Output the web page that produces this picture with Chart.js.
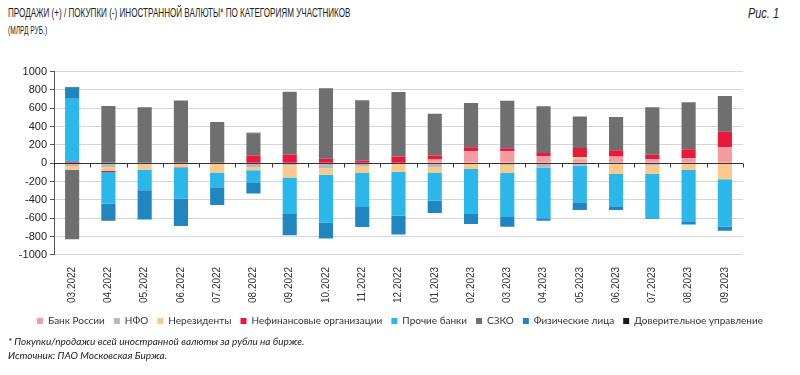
<!DOCTYPE html>
<html>
<head>
<meta charset="utf-8">
<script src="https://cdn.jsdelivr.net/npm/chart.js@4.4.0/dist/chart.umd.min.js"></script>
<style>
  body { margin: 0; width: 800px; height: 375px; background: #fff; position: relative; overflow: hidden; }
  .title { position: absolute; left: 8px; top: 5px; font-family: "Liberation Sans", sans-serif; font-size: 13.5px; color: #222; transform: scaleX(0.6); transform-origin: left top; white-space: nowrap; }
  .unit { position: absolute; left: 8px; top: 25px; font-family: "Liberation Sans", sans-serif; font-size: 10px; color: #222; transform: scaleX(0.66); transform-origin: left top; }
  .fig { position: absolute; left: 748px; top: 5px; font-family: "Liberation Sans", sans-serif; font-style: italic; font-size: 14px; color: #222; transform: scaleX(0.78); transform-origin: left top; }
  .note { position: absolute; left: 8px; font-family: Lato, sans-serif; font-style: italic; font-size: 10px; color: #222; }
  #wrap { position: absolute; left: 0; top: 62px; width: 800px; height: 274px; }
</style>
</head>
<body>
<div class="title">ПРОДАЖИ (+) / ПОКУПКИ (-) ИНОСТРАННОЙ ВАЛЮТЫ* ПО КАТЕГОРИЯМ УЧАСТНИКОВ</div>
<div class="unit">(МЛРД РУБ.)</div>
<div class="fig">Рис. 1</div>
<div id="wrap"><canvas id="chartView"></canvas></div>
<div class="note" style="top:335px">* Покупки/продажи всей иностранной валюты за рубли на бирже.</div>
<div class="note" style="top:349px">Источник: ПАО Московская Биржа.</div>
<script>
var months = ['03.2022', '04.2022', '05.2022', '06.2022', '07.2022', '08.2022', '09.2022', '10.2022', '11.2022', '12.2022',
              '01.2023', '02.2023', '03.2023', '04.2023', '05.2023', '06.2023', '07.2023', '08.2023', '09.2023'];

// млрд руб., продажи (+) / покупки (-)
var bankRossii   = [0, 0, 0, 0, 0, 0, 0, 0, 0, 0, 40, 130, 130, 78, 44, 74, 44, 55, 174];
var nfo          = [-30, -45, -15, -10, -5, -48, -25, -55, -30, -5, -44, 0, -20, -48, -26, 0, -25, 0, 0];
var nerezidenty  = [-40, -40, -55, -35, -95, -30, -130, -70, -77, -88, -56, -63, -85, 0, 23, -118, -93, -74, -174];
var nefin        = [15, -10, 0, -5, 0, 85, 96, 48, 26, 74, 45, 45, 33, 33, 99, 67, 48, 97, 170];
var prochieBanki = [688, -345, -225, -335, -163, -130, -400, -522, -370, -480, -307, -492, -483, -552, -400, -352, -482, -559, -518];
var szko         = [-760, 625, 610, 685, 451, 243, 684, 770, 662, 703, 455, 483, 518, 511, 345, 364, 520, 514, 389];
var fizLica      = [124, -180, -320, -300, -192, -122, -230, -174, -219, -205, -137, -107, -105, -29, -85, -40, -10, -37, -45];
var doverUpr     = [4, -5, 0, 0, 0, 5, 0, 0, 0, 0, 0, 0, 0, 0, 0, 0, 0, 0, 0];

var yTicks = [-1000, -800, -600, -400, -200, 0, 200, 400, 600, 800, 1000];

function ds(label, data, color) {
    return { label: label, data: data, backgroundColor: color, borderWidth: 0,
             barPercentage: 0.39, categoryPercentage: 1 };
}

// zero line with small tick marks between months
var zeroAxis = {
    id: 'zeroAxis',
    afterDatasetsDraw: function (chart) {
        var x = chart.scales.x, y = chart.scales.y, c = chart.ctx;
        var y0 = Math.round(y.getPixelForValue(0)) + 0.5;
        var step = x.getPixelForValue(1) - x.getPixelForValue(0);
        c.save();
        c.strokeStyle = '#333';
        c.lineWidth = 1;
        c.beginPath();
        c.moveTo(chart.chartArea.left, y0);
        c.lineTo(chart.chartArea.right, y0);
        for (var i = 0; i <= months.length; i++) {
            var px = Math.round(x.getPixelForValue(i) - step / 2) + 0.5;
            c.moveTo(px, y0);
            c.lineTo(px, y0 + 4);
        }
        c.stroke();
        c.restore();
    }
};

var ctx = document.getElementById('chartView').getContext('2d');
new Chart(ctx, {
    type: 'bar',
    data: {
        labels: months,
        datasets: [
            ds('Банк России', bankRossii, '#f59ca0'),
            ds('НФО', nfo, '#b9b9b9'),
            ds('Нерезиденты', nerezidenty, '#fbc98b'),
            ds('Нефинансовые организации', nefin, '#e8193c'),
            ds('Прочие банки', prochieBanki, '#2bb7ea'),
            ds('СЗКО', szko, '#6f6f6f'),
            ds('Физические лица', fizLica, '#1f86bf'),
            ds('Доверительное управление', doverUpr, '#1a1a1a')
        ]
    },
    plugins: [zeroAxis],
    options: {
        responsive: true,
        maintainAspectRatio: false,
        animation: false,
        layout: { padding: { top: 2, left: 0, right: 0, bottom: 0 } },
        plugins: {
            legend: {
                position: 'bottom',
                labels: { boxWidth: 6, boxHeight: 6, padding: 9, color: '#333',
                          font: { family: 'Lato', size: 10 } }
            },
            tooltip: { enabled: false }
        },
        scales: {
            x: {
                stacked: true,
                grid: { display: false },
                border: { display: false },
                ticks: { minRotation: 90, maxRotation: 90, color: '#333', padding: 4, autoSkip: false,
                         font: { family: 'Liberation Sans', size: 10 } }
            },
            y: {
                stacked: true,
                min: -1000,
                max: 1000,
                afterBuildTicks: function (axis) {
                    axis.ticks = yTicks.map(function (v) { return { value: v }; });
                },
                afterFit: function (axis) { axis.width = 54; },
                grid: { color: '#d6d6d6', tickColor: '#555', tickLength: 4 },
                border: { display: true, color: '#555' },
                ticks: { color: '#222', padding: 3, autoSkip: false,
                         font: { family: 'Liberation Sans', size: 11 },
                         callback: function (v) { return String(v); } }
            },
            yRight: {
                position: 'right',
                grid: { display: false },
                border: { display: false },
                ticks: { display: false },
                afterFit: function (axis) { axis.width = 57; }
            }
        }
    }
});
</script>
</body>
</html>
